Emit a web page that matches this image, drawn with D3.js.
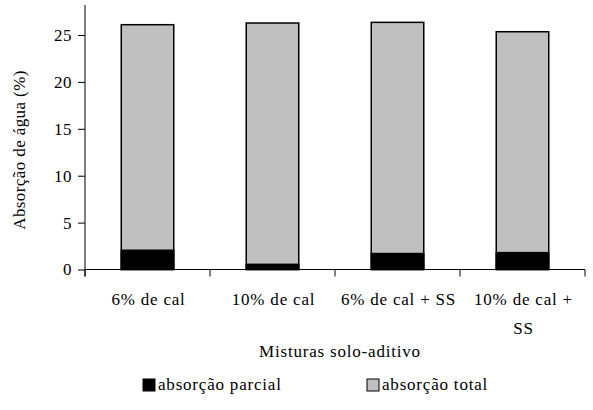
<!DOCTYPE html>
<html><head><meta charset="utf-8">
<script src="https://cdn.jsdelivr.net/npm/d3@7"></script>
<style>body{margin:0;background:#fff}text{font-family:"Liberation Serif","Times New Roman",serif;fill:#000}</style>
</head><body><svg id="c" width="593" height="410"></svg>
<script>
const categories = ["6% de cal", "10% de cal", "6% de cal + SS", "10% de cal + SS"];
const categoryLines = [["6% de cal"], ["10% de cal"], ["6% de cal + SS"], ["10% de cal +", "SS"]];
const absorcaoParcial = [2.05, 0.55, 1.7, 1.8];
const absorcaoTotal = [26.1, 26.28, 26.35, 25.35];
const yTicks = [0, 5, 10, 15, 20, 25];
const seriesNames = ["absorção parcial", "absorção total"];

(function () {
const svg = d3.select("#c");
const mL = 85, mR = 585, mT = 5, mB = 269.5;
const FS = 17, LS = 0.8;
const x = d3.scaleBand().domain(categories).range([mL, mR]).paddingInner(0.58).paddingOuter(0.29);
const y = d3.scaleLinear().domain([0, 28.2]).range([mB, mT]);

const g = svg.append("g");
g.selectAll("rect.tot").data(categories).join("rect").attr("class", "tot")
  .attr("x", d => x(d)).attr("width", x.bandwidth())
  .attr("y", (d, i) => y(absorcaoTotal[i])).attr("height", (d, i) => y(0) - y(absorcaoTotal[i]))
  .attr("fill", "#c0c0c0").attr("stroke", "#000").attr("stroke-width", 1.5);
g.selectAll("rect.par").data(categories).join("rect").attr("class", "par")
  .attr("x", d => x(d)).attr("width", x.bandwidth())
  .attr("y", (d, i) => y(absorcaoParcial[i])).attr("height", (d, i) => y(0) - y(absorcaoParcial[i]))
  .attr("fill", "#000").attr("stroke", "#000").attr("stroke-width", 1.5);

const ya = svg.append("g").attr("transform", `translate(${mL},0)`)
  .call(d3.axisLeft(y).tickValues(yTicks).tickSize(7).tickPadding(6).tickSizeOuter(0));
ya.select(".domain").remove();
ya.append("line").attr("x1", 0).attr("x2", 0).attr("y1", mT).attr("y2", mB + 7).attr("stroke", "#000");
ya.selectAll("text").attr("font-size", FS).attr("letter-spacing", 0.5).style("font-family", '"Liberation Serif",serif');

const xa = svg.append("g");
xa.append("line").attr("x1", mL).attr("x2", mR).attr("y1", mB).attr("y2", mB).attr("stroke", "#000");
const bounds = categories.map(c => x(c) - x.step() * x.paddingInner() / 2).concat([mR]);
xa.selectAll("line.t").data(bounds).join("line").attr("class", "t")
  .attr("x1", d => d).attr("x2", d => d).attr("y1", mB).attr("y2", mB + 7).attr("stroke", "#000");
categories.forEach((c, i) => {
  const t = xa.append("text").attr("text-anchor", "middle").attr("font-size", FS).attr("letter-spacing", LS);
  categoryLines[i].forEach((ln, j) => {
    t.append("tspan").attr("x", x(c) + x.bandwidth() / 2 + 1).attr("y", 305 + j * 29).text(ln);
  });
});

svg.append("text").attr("x", 340).attr("y", 357).attr("text-anchor", "middle").attr("font-size", FS).attr("letter-spacing", LS).text("Misturas solo-aditivo");
svg.append("text").attr("transform", "translate(25,150) rotate(-90)").attr("text-anchor", "middle").attr("font-size", FS).attr("letter-spacing", 0.4).text("Absorção de água (%)");

const legX = [143, 367];
const legColors = ["#000", "#c0c0c0"];
seriesNames.forEach((n, i) => {
  svg.append("rect").attr("x", legX[i]).attr("y", 379).attr("width", 12).attr("height", 12)
    .attr("fill", legColors[i]).attr("stroke", "#000").attr("stroke-width", 1);
  svg.append("text").attr("x", legX[i] + 15).attr("y", 390).attr("font-size", FS).attr("letter-spacing", LS).text(n);
});
})();
</script></body></html>
